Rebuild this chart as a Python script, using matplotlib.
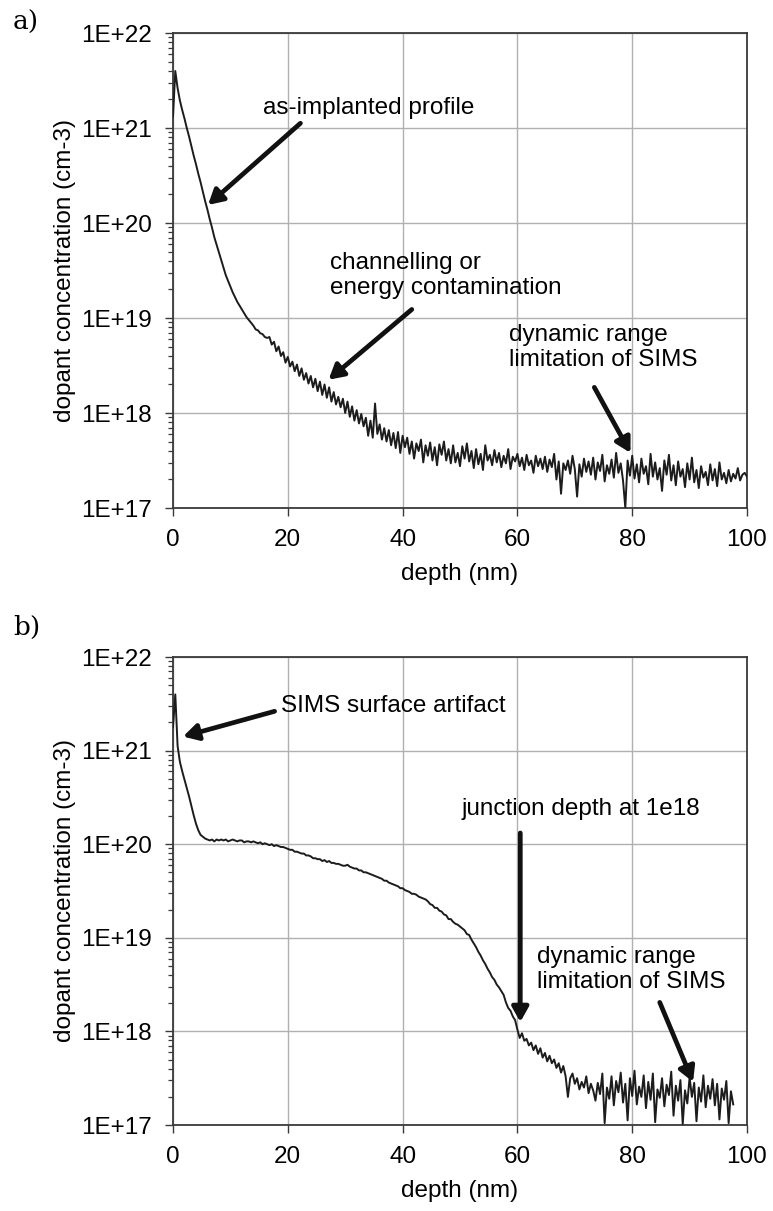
import numpy as np
import matplotlib
matplotlib.use("Agg")
import matplotlib.pyplot as plt
from matplotlib.ticker import FuncFormatter, LogLocator, NullFormatter

plt.rcParams['font.family'] = ['Liberation Sans', 'DejaVu Sans']

# SIMS profiles, log10 of dopant concentration (cm-3), one point every 0.4 nm
STEP = 0.4

# a) as-implanted profile, 0 .. 100 nm
log_a = [
    21.12, 21.60, 21.42, 21.29, 21.19, 21.10, 21.00, 20.91, 20.81, 20.71,
    20.62, 20.52, 20.43, 20.33, 20.23, 20.14, 20.04, 19.95, 19.85, 19.77,
    19.69, 19.61, 19.53, 19.45, 19.39, 19.33, 19.27, 19.22, 19.17, 19.13,
    19.09, 19.05, 19.01, 18.98, 18.95, 18.92, 18.88, 18.87, 18.84, 18.83,
    18.80, 18.79,
    18.80, 18.72, 18.75, 18.65, 18.70, 18.60, 18.64, 18.53, 18.59, 18.49,
    18.54, 18.44, 18.51, 18.39, 18.47, 18.35, 18.42, 18.31, 18.39, 18.27,
    18.36, 18.23, 18.33, 18.19, 18.30, 18.16, 18.27, 18.12, 18.22, 18.09,
    18.17, 18.06, 18.15, 18.00, 18.12, 17.96, 18.07, 17.92, 18.03, 17.89,
    17.99, 17.86, 17.95, 17.76, 17.92, 17.74, 18.10, 17.78, 17.88, 17.72,
    17.84, 17.70, 17.82, 17.66, 17.79, 17.63, 17.80, 17.58, 17.76, 17.64,
    17.74, 17.57, 17.70, 17.52, 17.68, 17.60, 17.72, 17.48, 17.66, 17.55,
    17.69, 17.50, 17.64, 17.45, 17.67, 17.56, 17.70, 17.50, 17.62, 17.47,
    17.66, 17.48, 17.58, 17.44, 17.65, 17.52, 17.68, 17.49, 17.60, 17.42,
    17.62, 17.46, 17.57, 17.40, 17.66, 17.50, 17.56, 17.45, 17.61, 17.48,
    17.58, 17.43, 17.55, 17.47, 17.62, 17.41, 17.54, 17.49, 17.57, 17.44,
    17.53, 17.40, 17.56, 17.45, 17.50, 17.37, 17.55, 17.44, 17.52, 17.41,
    17.54, 17.38, 17.51, 17.43, 17.57, 17.30, 17.49, 17.15, 17.47, 17.40,
    17.50, 17.36, 17.55, 17.41, 17.12, 17.46, 17.33, 17.52, 17.38, 17.49,
    17.35, 17.53, 17.30, 17.48, 17.39, 17.56, 17.28, 17.45, 17.36, 17.51,
    17.32, 17.58, 17.37, 17.47, 17.29, 17.00, 17.50, 17.34, 17.55, 17.31,
    17.46, 17.27, 17.52, 17.36, 17.44, 17.25, 17.57, 17.33, 17.48, 17.30,
    17.42, 17.18, 17.50, 17.35, 17.56, 17.29, 17.45, 17.24, 17.49, 17.33,
    17.41, 17.22, 17.47, 17.30, 17.53, 17.27, 17.40, 17.21, 17.44, 17.32,
    17.38, 17.24, 17.46, 17.29, 17.41, 17.23, 17.48, 17.30, 17.37, 17.26,
    17.40, 17.28, 17.36, 17.31, 17.42, 17.29, 17.35, 17.37, 17.33,
]

# b) annealed profile, 0 .. 97.6 nm
log_b = [
    21.25, 21.60, 21.05, 20.88, 20.78, 20.69, 20.60, 20.51, 20.41, 20.31,
    20.22, 20.15, 20.10, 20.08, 20.06, 20.05,
    20.04, 20.05, 20.03, 20.05, 20.04, 20.05, 20.04, 20.05, 20.03, 20.04,
    20.05, 20.04, 20.03, 20.04, 20.04, 20.02, 20.03, 20.03, 20.02, 20.03,
    20.02, 20.01, 20.02, 20.00, 20.01, 20.00, 19.99, 20.00, 19.98, 19.99,
    19.98, 19.97, 19.97, 19.96, 19.95, 19.94, 19.94, 19.92, 19.92, 19.91,
    19.90, 19.90, 19.88, 19.88, 19.87, 19.85, 19.85, 19.84, 19.84, 19.82,
    19.83, 19.81, 19.82, 19.80, 19.80, 19.79, 19.79, 19.78, 19.77, 19.77,
    19.78, 19.76, 19.75, 19.74, 19.74, 19.72, 19.72, 19.70, 19.70, 19.69,
    19.68, 19.67, 19.66, 19.65, 19.64, 19.63, 19.61, 19.61, 19.59, 19.58,
    19.57, 19.56, 19.55, 19.53, 19.53, 19.51, 19.50, 19.49, 19.47, 19.47,
    19.46, 19.44, 19.43, 19.42, 19.41, 19.39, 19.36, 19.35, 19.32, 19.32,
    19.29, 19.28, 19.25, 19.24, 19.20, 19.20, 19.17, 19.15, 19.14, 19.12,
    19.10, 19.08, 19.04, 19.03, 18.98, 18.94, 18.90, 18.85, 18.81, 18.76,
    18.72, 18.67, 18.63, 18.58, 18.55, 18.50, 18.47, 18.43, 18.39, 18.31,
    18.25, 18.22, 18.16, 18.12, 18.02, 17.93, 17.98, 17.90, 17.92, 17.85,
    17.88, 17.80, 17.85, 17.76, 17.82, 17.72, 17.77, 17.68, 17.74, 17.66,
    17.70, 17.61, 17.66, 17.56, 17.63, 17.52, 17.30, 17.50, 17.55, 17.44,
    17.50, 17.38, 17.46, 17.40, 17.52, 17.34, 17.44, 17.37, 17.26, 17.45,
    17.33, 17.55, 17.02, 17.40, 17.28, 17.52, 17.21, 17.47, 17.35, 17.56,
    17.24, 17.44, 17.05, 17.50, 17.31, 17.58, 17.22, 17.41, 17.30, 17.53,
    17.18, 17.46, 17.27, 17.55, 17.03, 17.38, 17.29, 17.50, 17.20, 17.43,
    17.32, 17.57, 17.10, 17.42, 17.26, 17.48, 17.01, 17.37, 17.23, 17.51,
    17.30, 17.45, 17.04, 17.40, 17.25, 17.53, 17.19, 17.42, 17.28, 17.49,
    17.21, 17.44, 17.06, 17.39, 17.27, 17.47, 17.02, 17.36, 17.22,
]

x_ticks = [0, 20, 40, 60, 80, 100]

# annotations: (text, text x, text log y, arrow tail (x, logy), arrow tip (x, logy))
notes_a = [
    ("as-implanted profile", 15.7, 21.21, (22.2, 21.05), (6.1, 20.19)),
    ("channelling or\nenergy contamination", 27.4, 19.45, (41.6, 19.09), (27.1, 18.35)),
    ("dynamic range\nlimitation of SIMS", 58.6, 18.69, (73.4, 18.27), (79.7, 17.58)),
]
notes_b = [
    ("SIMS surface artifact", 18.9, 21.48, (17.7, 21.42), (1.75, 21.15)),
    ("junction depth at 1e18", 50.3, 20.38, (60.5, 20.12), (60.5, 18.10)),
    ("dynamic range\nlimitation of SIMS", 63.5, 18.66, (84.8, 18.31), (90.6, 17.46)),
]

FS = 17.5
W, H = 773, 1211
fig = plt.figure(figsize=(W / 100, H / 100), dpi=100)

ax_a = fig.add_axes([173 / W, 1 - 508 / H, (747 - 173) / W, 475 / H])
ax_b = fig.add_axes([173 / W, 1 - 1125 / H, (747 - 173) / W, 468 / H])


def style(ax):
    ax.set_yscale('log')
    ax.set_xlim(0, 100)
    ax.set_ylim(1e17, 1e22)
    ax.set_xticks(x_ticks)
    ax.yaxis.set_major_locator(LogLocator(base=10, numticks=10))
    ax.yaxis.set_minor_locator(LogLocator(base=10, subs=np.arange(2, 10), numticks=10))
    ax.yaxis.set_minor_formatter(NullFormatter())
    ax.yaxis.set_major_formatter(FuncFormatter(lambda v, _: "1E+%d" % round(np.log10(v))))
    ax.grid(True, which='major', color='#b0b0b0', lw=1.0)
    ax.set_axisbelow(True)
    for s in ax.spines.values():
        s.set_color('#3a3a3a')
        s.set_linewidth(1.3)
    ax.tick_params(which='major', direction='out', length=6, width=1.0,
                   color='#3a3a3a', labelsize=FS, pad=9)
    ax.tick_params(which='minor', direction='out', length=3.5, width=0.9, color='#3a3a3a')
    ax.set_xlabel('depth (nm)', fontsize=FS, labelpad=9)
    ax.set_ylabel('dopant concentration (cm-3)', fontsize=FS, labelpad=4)


for ax, logs, notes in [(ax_a, log_a, notes_a), (ax_b, log_b, notes_b)]:
    style(ax)
    depth = STEP * np.arange(len(logs))
    ax.plot(depth, 10 ** np.array(logs), color='#1c1c1c', lw=1.4, zorder=3)
    for text, tx, ty, tail, tip in notes:
        ax.text(tx, 10 ** ty, text, fontsize=FS, ha='left', va='center',
                linespacing=1.15, zorder=4)
        ax.annotate('', xy=(tip[0], 10 ** tip[1]), xytext=(tail[0], 10 ** tail[1]),
                    arrowprops=dict(arrowstyle='-|>,head_length=0.5,head_width=0.28',
                                    lw=3.4, color='#111111', shrinkA=0, shrinkB=0),
                    fontsize=FS, zorder=5)

fig.text(13 / W, 1 - 22 / H, 'a)', fontsize=19, family='DejaVu Serif', va='center')
fig.text(13 / W, 1 - 627 / H, 'b)', fontsize=19, family='DejaVu Serif', va='center')

fig.savefig('out.png', dpi=100)
